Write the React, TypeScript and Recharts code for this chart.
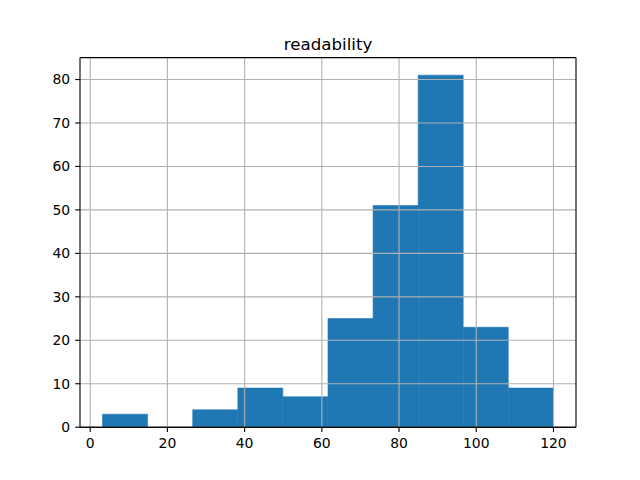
import {
  ComposedChart,
  Bar,
  XAxis,
  YAxis,
  ReferenceLine,
} from 'recharts';

// histogram bin edges and the count in each bin
const BIN_EDGES = [3.2, 14.88, 26.56, 38.24, 49.92, 61.6, 73.28, 84.96, 96.64, 108.32, 120];
const COUNTS = [3, 0, 4, 9, 7, 25, 51, 81, 23, 9];
const X_TICKS = [0, 20, 40, 60, 80, 100, 120];
const Y_TICKS = [0, 10, 20, 30, 40, 50, 60, 70, 80];
const TITLE = 'readability';

const WIDTH = 640;
const HEIGHT = 480;
const PLOT_LEFT = 80;
const PLOT_RIGHT = 576;
const PLOT_TOP = 57.6;
const PLOT_BOTTOM = 427.2;
const X_DOMAIN: [number, number] = [-2.64, 125.84];
const Y_DOMAIN: [number, number] = [0, 85.05];

const FONT = '"DejaVu Sans", sans-serif';
const BLUE = '#1f77b4';
const GRID = '#b0b0b0';

const data = COUNTS.map((count, i) => ({
  mid: (BIN_EDGES[i] + BIN_EDGES[i + 1]) / 2,
  count,
}));

const tickStyle = { fontSize: 13.9, fill: '#000', fontFamily: FONT };
const spine = { stroke: '#000', strokeWidth: 1.1 };

export default function App() {
  return (
    <div style={{ position: 'absolute', left: 0, top: 0, width: WIDTH, height: HEIGHT, background: '#fff' }}>
      <div
        style={{
          position: 'absolute',
          left: PLOT_LEFT,
          width: PLOT_RIGHT - PLOT_LEFT,
          top: 37,
          textAlign: 'center',
          fontFamily: FONT,
          fontSize: 16.67,
          lineHeight: '16.67px',
        }}
      >
        {TITLE}
      </div>
      <ComposedChart
        width={WIDTH}
        height={HEIGHT}
        data={data}
        barCategoryGap={0}
        barGap={0}
        margin={{ top: PLOT_TOP, right: WIDTH - PLOT_RIGHT, bottom: HEIGHT - PLOT_BOTTOM - 30, left: 20 }}
      >
        <XAxis
          type="number"
          dataKey="mid"
          domain={X_DOMAIN}
          ticks={X_TICKS}
          allowDataOverflow
          height={30}
          tick={tickStyle}
          tickSize={4.86}
          tickMargin={6}
          tickLine={spine}
          axisLine={spine}
        />
        <YAxis
          type="number"
          domain={Y_DOMAIN}
          ticks={Y_TICKS}
          allowDataOverflow
          width={60}
          tick={tickStyle}
          tickSize={4.86}
          tickMargin={5}
          tickLine={spine}
          axisLine={spine}
        />
        <Bar dataKey="count" fill={BLUE} stroke={BLUE} strokeWidth={0.6} isAnimationActive={false} />
        {X_TICKS.map((t) => (
          <ReferenceLine key={`x-${t}`} x={t} stroke={GRID} strokeWidth={1.1} />
        ))}
        {Y_TICKS.map((t) => (
          <ReferenceLine key={`y-${t}`} y={t} stroke={GRID} strokeWidth={1.1} />
        ))}
        {/* top and right spines */}
        <ReferenceLine y={Y_DOMAIN[1]} stroke="#000" strokeWidth={1.1} />
        <ReferenceLine x={X_DOMAIN[1]} stroke="#000" strokeWidth={1.1} />
        <ReferenceLine y={0} stroke="#000" strokeWidth={1.1} />
      </ComposedChart>
    </div>
  );
}
